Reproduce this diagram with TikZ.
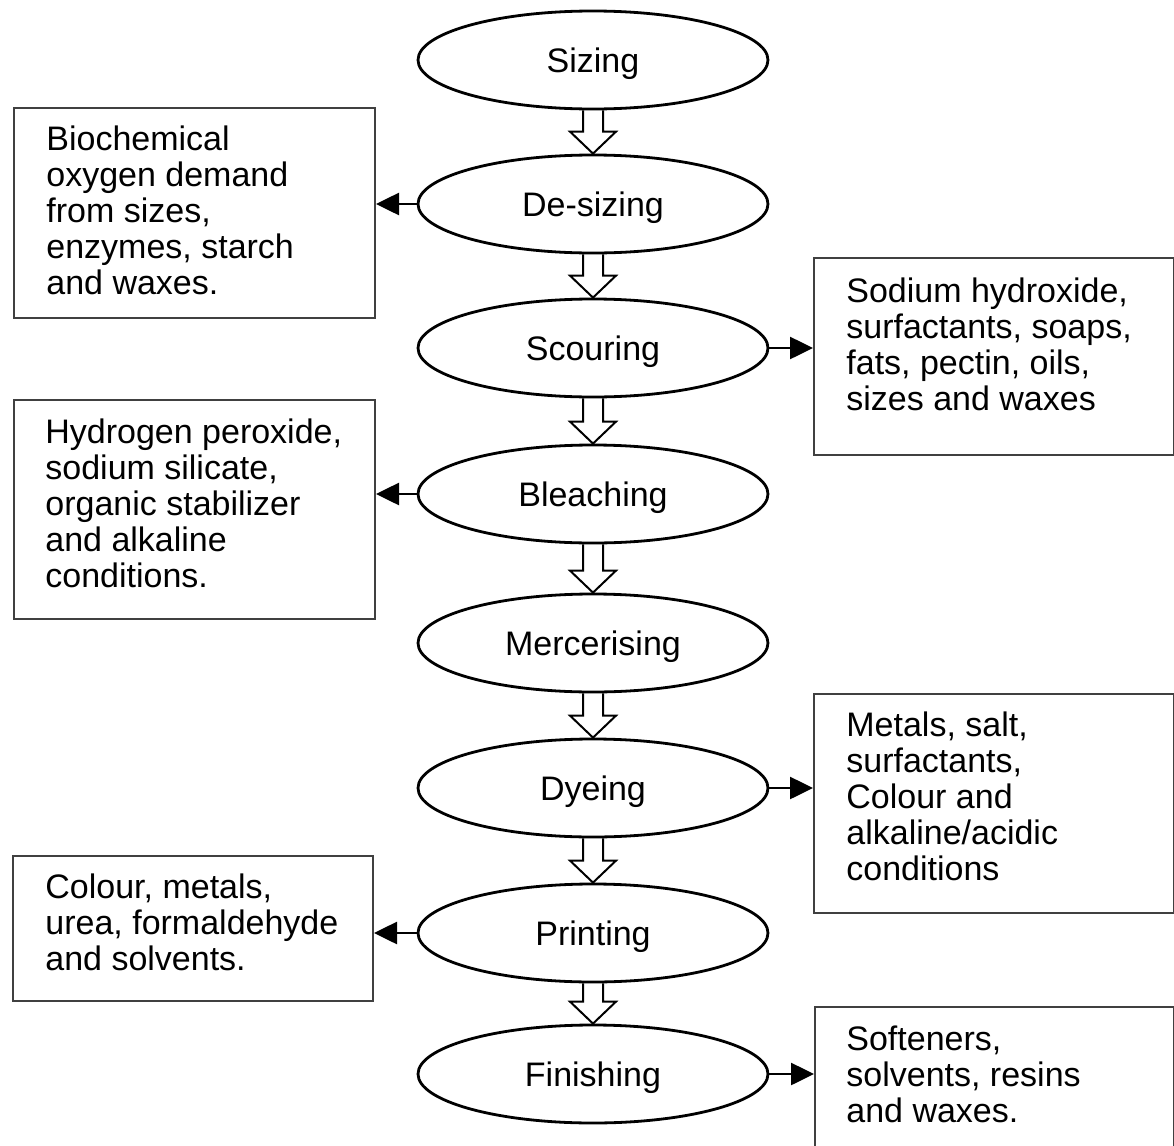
\documentclass[tikz,border=0pt]{standalone}
\usepackage{fontspec}
\setmainfont{Liberation Sans}
\usetikzlibrary{shapes.geometric,arrows.meta,calc}
\pgfdeclarelayer{bg}
\pgfsetlayers{bg,main}
\begin{document}
\begin{tikzpicture}[x=0.5pt,y=-0.5pt,
  every node/.style={font=\fontsize{17pt}{18pt}\selectfont},
  proc/.style={ellipse, draw=black, line width=1.4pt, minimum width=175pt, minimum height=49pt, inner sep=0pt, fill=white, text height=12pt, text depth=0pt},
  sidebox/.style={rectangle, draw=black!75, line width=1pt, inner sep=0pt, anchor=north west},
  boxtext/.style={anchor=base west, inner sep=0pt},
  flow/.style={draw=black, line width=1pt, fill=white, line join=miter},
  outarrow/.style={line width=1.3pt, -{Triangle[length=11.5pt,width=11pt]}}
]
\useasboundingbox (0,0) rectangle (1174,1146);
\clip (0,0) rectangle (1174,1146);

% process ellipses
\node[proc] (S1) at (593,60)   {Sizing};
\node[proc] (S2) at (593,204)  {De-sizing};
\node[proc] (S3) at (593,348)  {Scouring};
\node[proc] (S4) at (593,494)  {Bleaching};
\node[proc] (S5) at (593,643)  {Mercerising};
\node[proc] (S6) at (593,788)  {Dyeing};
\node[proc] (S7) at (593,933)  {Printing};
\node[proc] (S8) at (593,1074) {Finishing};

% hollow flow arrows
\begin{pgfonlayer}{bg}
\foreach \a/\b in {S1/S2,S2/S3,S3/S4,S4/S5,S5/S6,S6/S7,S7/S8}{
  \path[flow] ($(\a.south)+(-10,0)$) -- ($(\b.north)+(-10,-22)$) -- ($(\b.north)+(-23,-22)$)
    -- (\b.north) -- ($(\b.north)+(23,-22)$) -- ($(\b.north)+(10,-22)$) -- ($(\a.south)+(10,0)$);
}
\end{pgfonlayer}

% side boxes
\node[sidebox, minimum width=180.5pt, minimum height=105pt]  (L1) at (13,107)  {};
\node[sidebox, minimum width=180pt,   minimum height=98.5pt] (R1) at (813,257) {};
\node[sidebox, minimum width=180.5pt, minimum height=109.5pt](L2) at (13,399)  {};
\node[sidebox, minimum width=180pt,   minimum height=109.5pt](R2) at (813,693) {};
\node[sidebox, minimum width=180pt,   minimum height=72.5pt] (L3) at (12,855)  {};
\node[sidebox, minimum width=179.5pt, minimum height=80pt]   (R3) at (814,1006){};

% box texts
\node[boxtext] (L1t) at ($(L1.north west)+(33,43)$) {\parbox[t]{165pt}{\raggedright Biochemical\\oxygen demand\\from sizes,\\enzymes, starch\\and waxes.}};
\node[boxtext] (R1t) at ($(R1.north west)+(33,45)$) {\parbox[t]{165pt}{\raggedright Sodium hydroxide,\\surfactants, soaps,\\fats, pectin, oils,\\sizes and waxes}};
\node[boxtext] (L2t) at ($(L2.north west)+(32,44)$) {\parbox[t]{165pt}{\raggedright Hydrogen peroxide,\\sodium silicate,\\organic stabilizer\\and alkaline\\conditions.}};
\node[boxtext] (R2t) at ($(R2.north west)+(33,43)$) {\parbox[t]{165pt}{\raggedright Metals, salt,\\surfactants,\\Colour and\\alkaline/acidic\\conditions}};
\node[boxtext] (L3t) at ($(L3.north west)+(33,43)$) {\parbox[t]{165pt}{\raggedright Colour, metals,\\urea, formaldehyde\\and solvents.}};
\node[boxtext] (R3t) at ($(R3.north west)+(32,44)$) {\parbox[t]{165pt}{\raggedright Softeners,\\solvents, resins\\and waxes.}};

% output arrows
\draw[outarrow] (S2.west) -- (S2.west -| L1.east);
\draw[outarrow] (S3.east) -- (S3.east -| R1.west);
\draw[outarrow] (S4.west) -- (S4.west -| L2.east);
\draw[outarrow] (S6.east) -- (S6.east -| R2.west);
\draw[outarrow] (S7.west) -- (S7.west -| L3.east);
\draw[outarrow] (S8.east) -- (S8.east -| R3.west);
\end{tikzpicture}
\end{document}
